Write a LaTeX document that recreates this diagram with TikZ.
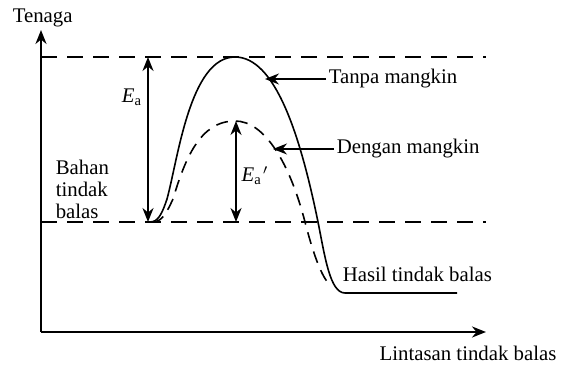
\documentclass[tikz,border=0pt]{standalone}
\usepackage{fontspec}
\setmainfont{Liberation Serif}
\usepackage{tikz}
\usetikzlibrary{arrows.meta}

\begin{document}
\begin{tikzpicture}[>={Stealth[length=7pt,width=5.5pt]},x=0.5pt,y=0.5pt,
  font=\fontsize{10.4}{11}\selectfont,line width=0.8pt]
\useasboundingbox (0,0) rectangle (561,364);

\def\reactLvl{142}
\def\peakLvl{307}
\def\catLvl{243}
\def\prodLvl{71}

% paksi
\coordinate (O) at (41,32);
\coordinate (yEnd) at (41,334);
\coordinate (xEnd) at (486,32);
\draw[->,line width=1pt] (O) -- (yEnd);
\draw[->,line width=1pt] (O) -- (xEnd);
\node[anchor=base west,inner sep=0pt] (tenaga) at (12,341) {Tenaga};
\node[inner sep=0pt] (lintasan) at (468,11) {Lintasan tindak balas};

% aras tenaga
\draw[dashed,dash pattern=on 8pt off 5pt] (41,\peakLvl) -- (486,\peakLvl);
\draw[dashed,dash pattern=on 8pt off 5pt] (41,\reactLvl) -- (486,\reactLvl);

% lengkung tanpa mangkin
\draw (150,\reactLvl) .. controls (158,\reactLvl) and (162,150) .. (167,165)
  .. controls (178,205) and (190,\peakLvl) .. (235,\peakLvl)
  .. controls (275,\peakLvl) and (300,230) .. (318,\reactLvl)
  .. controls (325,107) and (330,\prodLvl) .. (345,\prodLvl)
  -- (457,\prodLvl);

% lengkung dengan mangkin
\draw[dashed,dash pattern=on 6pt off 4pt] (153,\reactLvl)
  .. controls (162,\reactLvl) and (167,152) .. (173,165)
  .. controls (185,205) and (200,\catLvl) .. (235,\catLvl)
  .. controls (265,\catLvl) and (290,200) .. (305,\reactLvl)
  .. controls (312,115) and (320,90) .. (329,80);

% tenaga pengaktifan
\coordinate (eaTop) at (148,\peakLvl);
\coordinate (eaBot) at (148,\reactLvl);
\draw[<->,line width=1pt] (eaTop) -- (eaBot);
\node (ea) at (132,267) {\textit{E}\textsubscript{a}};

\coordinate (eapTop) at (236,\catLvl);
\coordinate (eapBot) at (236,\reactLvl);
\draw[<->,line width=1pt] (eapTop) -- (eapBot);
\node (eap) at (255,188) {\textit{E}\textsubscript{a}\kern0.5pt$'$};

% label
\node[anchor=west,inner sep=1pt] (tanpa) at (326,285) {Tanpa mangkin};
\coordinate (tanpaPt) at (265,285);
\draw[->] (tanpa.west) -- (tanpaPt);

\node[anchor=west,inner sep=1pt] (dengan) at (334,215) {Dengan mangkin};
\coordinate (denganPt) at (273,215);
\draw[->] (dengan.west) -- (denganPt);

\node[anchor=west,inner sep=1pt,align=left] (bahan) at (53,175) {Bahan\\tindak\\balas};
\node[anchor=west,inner sep=1pt] (hasil) at (340,90) {Hasil tindak balas};

\end{tikzpicture}
\end{document}
